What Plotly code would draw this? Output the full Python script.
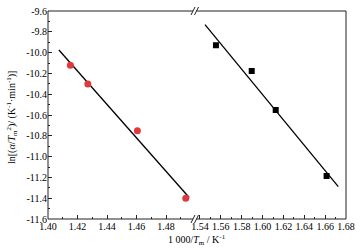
import numpy as np
import plotly.graph_objects as go

# data
red_x = [1.4152, 1.4270, 1.4606, 1.4934]
red_y = [-10.122, -10.302, -10.751, -11.400]
blk_x = [1.5553, 1.5896, 1.6126, 1.6614]
blk_y = [-9.930, -10.177, -10.552, -11.187]
red_fit_range = [1.4074, 1.4957]
blk_fit_range = [1.5448, 1.6726]
x_ticks_left = [1.40, 1.42, 1.44, 1.46, 1.48]
x_ticks_right = [1.54, 1.56, 1.58, 1.60, 1.62, 1.64, 1.66, 1.68]
y_ticks = [-9.6, -9.8, -10.0, -10.2, -10.4, -10.6, -10.8, -11.0, -11.2, -11.4, -11.6]
y_tick_labels = ["-9.6", "-9.8", "-10.0", "-10.2", "-10.4", "-10.6", "-10.8", "-11.0", "-11.2", "-11.4", "-11.6"]

W, H = 360, 250
L, R, T, B = 48, 14, 11, 31
PW, PH = W - L - R, H - T - B
SPLIT = 0.495

def px(x):
    return (x - L) / PW

def py(y):
    return (H - B - y) / PH

rk, rb = np.polyfit(red_x, red_y, 1)
bk, bb = np.polyfit(blk_x, blk_y, 1)
rfx = np.array(red_fit_range)
bfx = np.array(blk_fit_range)

font = "Liberation Serif, Times New Roman, serif"
fig = go.Figure()
fig.add_trace(go.Scatter(x=rfx, y=rk * rfx + rb, mode="lines",
                         line=dict(color="black", width=1.3), xaxis="x", yaxis="y"))
fig.add_trace(go.Scatter(x=red_x, y=red_y, mode="markers",
                         marker=dict(color="#e0383c", size=7, symbol="circle"), xaxis="x", yaxis="y"))
fig.add_trace(go.Scatter(x=bfx, y=bk * bfx + bb, mode="lines",
                         line=dict(color="black", width=1.3), xaxis="x2", yaxis="y"))
fig.add_trace(go.Scatter(x=blk_x, y=blk_y, mode="markers",
                         marker=dict(color="black", size=6, symbol="square"), xaxis="x2", yaxis="y"))

common_x = dict(ticks="inside", ticklen=4, tickcolor="#222", tickwidth=1, showgrid=False,
                zeroline=False, showline=False, automargin=False,
                tickfont=dict(family=font, size=10, color="black"))

def minor_x(t0):
    return dict(ticks="inside", ticklen=2, tickcolor="#222", tickmode="linear", tick0=t0, dtick=0.01)

fig.update_layout(
    width=W, height=H, margin=dict(l=L, r=R, t=T, b=B, autoexpand=False),
    paper_bgcolor="white", plot_bgcolor="white", showlegend=False,
    font=dict(family=font, size=10, color="black"),
    xaxis=dict(domain=[0, SPLIT], range=[1.40, 1.50], tickvals=x_ticks_left,
               ticktext=[f"{v:.2f}" for v in x_ticks_left], minor=minor_x(1.40), **common_x),
    xaxis2=dict(domain=[SPLIT, 1], range=[1.5357, 1.68], anchor="y", tickvals=x_ticks_right,
                ticktext=[f"{v:.2f}" for v in x_ticks_right], minor=minor_x(1.54), **common_x),
    yaxis=dict(range=[-11.6, -9.6], tickvals=y_ticks, ticktext=y_tick_labels,
               ticks="inside", ticklen=4, tickcolor="#222", showgrid=False, zeroline=False,
               showline=False, automargin=False,
               tickfont=dict(family=font, size=10, color="black"),
               minor=dict(ticks="inside", ticklen=2, tickcolor="#222", tickmode="linear",
                          tick0=-9.6, dtick=0.1)),
)

shapes = [dict(type="rect", xref="paper", yref="paper", x0=0, x1=1, y0=0, y1=1,
               line=dict(color="#222", width=1))]
for yb in (H - B, T):
    shapes.append(dict(type="rect", xref="paper", yref="paper",
                       x0=px(193), x1=px(196.5), y0=py(yb + 1.5), y1=py(yb - 1.5),
                       line=dict(width=0), fillcolor="white"))
    for xo in (191, 194.5):
        shapes.append(dict(type="line", xref="paper", yref="paper",
                           x0=px(xo), y0=py(yb + 4), x1=px(xo + 4), y1=py(yb - 4),
                           line=dict(color="#222", width=1)))
fig.update_layout(shapes=shapes)
fig.add_annotation(text="1 000/<i>T</i><sub>m</sub> / K<sup>-1</sup>", xref="paper", yref="paper",
                   x=0.5, y=py(240), showarrow=False, font=dict(family=font, size=10),
                   xanchor="center", yanchor="middle")
fig.add_annotation(text="ln[(<i>α</i>/<i>T</i><sub>m</sub><sup>2</sup>)/ (K<sup>-1</sup>·min<sup>-1</sup>)]",
                   xref="paper", yref="paper", x=px(12), y=py(118), textangle=-90,
                   showarrow=False, font=dict(family=font, size=10),
                   xanchor="center", yanchor="middle")
fig.write_html("out.html", config={"displayModeBar": False},
               post_script="document.body.style.margin='0';document.body.style.padding='0';"
                           "document.body.style.overflow='hidden';")
